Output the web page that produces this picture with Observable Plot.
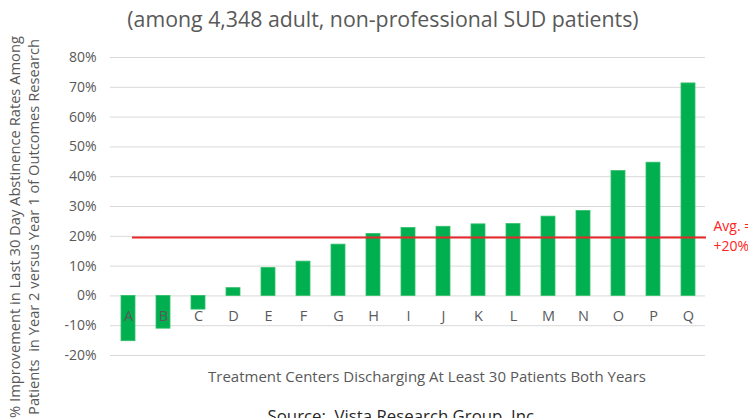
<!DOCTYPE html>
<html>
<head>
<meta charset="utf-8">
<script src="https://cdn.jsdelivr.net/npm/d3@7"></script>
<script src="https://cdn.jsdelivr.net/npm/@observablehq/plot@0.6"></script>
<style>
  html, body { margin: 0; padding: 0; background: #fff; }
  #chart { position: relative; width: 748px; height: 418px; overflow: hidden; }
  #chart svg { font-family: "Open Sans", sans-serif; }
</style>
</head>
<body>
<div id="chart"></div>
<script>
const categories = ["A","B","C","D","E","F","G","H","I","J","K","L","M","N","O","P","Q"];
const values = [-15.2, -11.0, -4.6, 2.6, 9.4, 11.5, 17.2, 20.8, 22.8, 23.2, 24.0, 24.1, 26.6, 28.5, 41.9, 44.7, 71.3];
const average = 19.6;
const averageLabel = "Avg. =\n+20%";
const yTicks = [-20, -10, 0, 10, 20, 30, 40, 50, 60, 70, 80];
const subtitle = "(among 4,348 adult, non-professional SUD patients)";
const xTitle = "Treatment Centers Discharging At Least 30 Patients Both Years";
const yTitleLines = ["% Improvement in Last 30 Day Abstinence Rates Among", "Patients  in Year 2 versus Year 1 of Outcomes Research"];
const source = "Source:  Vista Research Group, Inc.";

const data = categories.map((c, i) => ({category: c, value: values[i]}));

const chart = Plot.plot({
  width: 748,
  height: 418,
  marginTop: 57,
  marginBottom: 63,
  marginLeft: 110,
  marginRight: 43,
  style: {fontFamily: "Open Sans, sans-serif", background: "#fff"},
  x: {domain: categories, paddingInner: 0.6, paddingOuter: 0.3, axis: null},
  y: {domain: [-20, 80], ticks: yTicks, axis: null},
  marks: [
    Plot.gridY(yTicks, {stroke: "#d9d9d9", strokeOpacity: 1, strokeWidth: 1}),
    Plot.axisY(yTicks, {tickSize: 0, tickPadding: 14, tickFormat: d => d + "%", fontSize: 14, fill: "#595959", label: null}),
    Plot.barY(data, {x: "category", y: "value", fill: "#00b050", stroke: "#33c06a", strokeWidth: 0.8}),
    Plot.text(categories, {x: d => d, y: () => -7, text: d => d, fill: "#595959", fontSize: 14.5}),
    Plot.ruleY([average], {stroke: "#e8262b", strokeWidth: 2, insetLeft: 22, insetRight: -1}),
    Plot.text([average], {y: d => d, frameAnchor: "right", textAnchor: "start", dx: 8, dy: -3, text: () => averageLabel, fill: "#ff2222", fontSize: 14, lineHeight: 1.4})
  ]
});

document.getElementById("chart").appendChild(chart);
const svg = d3.select(chart);

svg.append("text")
  .attr("x", 383).attr("y", 27)
  .attr("text-anchor", "middle")
  .attr("fill", "#595959")
  .style("font-size", "21.3px")
  .text(subtitle);

svg.append("text")
  .attr("x", 427).attr("y", 382)
  .attr("text-anchor", "middle")
  .attr("fill", "#595959")
  .style("font-size", "15px")
  .text(xTitle);

svg.append("text")
  .attr("x", 403).attr("y", 422)
  .attr("text-anchor", "middle")
  .attr("fill", "#262626")
  .style("font-size", "16.8px")
  .text(source);

const yt = svg.append("text")
  .attr("transform", "translate(0,227) rotate(-90)")
  .attr("text-anchor", "middle")
  .attr("fill", "#595959")
  .style("font-size", "14.7px");
yt.append("tspan").attr("x", 0).attr("y", 20).text(yTitleLines[0]);
yt.append("tspan").attr("x", 0).attr("y", 39).text(yTitleLines[1]);
</script>
</body>
</html>
